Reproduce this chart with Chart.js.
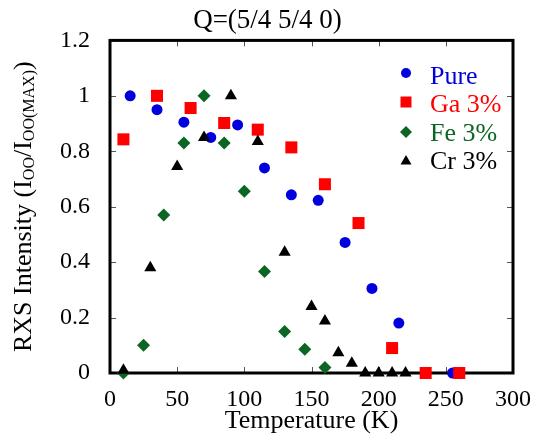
<!DOCTYPE html>
<html>
<head>
<meta charset="utf-8">
<script src="https://cdn.jsdelivr.net/npm/chart.js@4.4.1/dist/chart.umd.min.js"></script>
<style>
  html, body { margin: 0; padding: 0; background: #fff; }
</style>
</head>
<body>
<canvas id="chart" width="539" height="440"></canvas>
<script>
// temperatures (K) and normalised intensities
const pureT = [15, 35, 55, 75, 95, 115, 135, 155, 175, 195, 215, 255];
const pureI = [1.0, 0.95, 0.905, 0.85, 0.895, 0.74, 0.643, 0.623, 0.471, 0.305, 0.18, 0];
const gaT = [10, 35, 60, 85, 110, 135, 160, 185, 210, 235, 260];
const gaI = [0.843, 1.0, 0.956, 0.902, 0.878, 0.814, 0.681, 0.541, 0.09, 0, 0];
const feT = [10, 25, 40, 55, 70, 85, 100, 115, 130, 145, 160];
const feI = [0, 0.1, 0.57, 0.83, 1.0, 0.83, 0.656, 0.366, 0.15, 0.086, 0.02];
const crT = [10, 30, 50, 70, 90, 110, 130, 150, 160, 170, 180, 190, 200, 210, 220];
const crI = [0.01, 0.38, 0.745, 0.85, 1.0, 0.835, 0.436, 0.24, 0.188, 0.073, 0.035, 0, 0, 0, 0];

const seriesNames = ['Pure', 'Ga 3%', 'Fe 3%', 'Cr 3%'];
const xTicks = [0, 50, 100, 150, 200, 250, 300];
const yTicks = [0, 0.2, 0.4, 0.6, 0.8, 1, 1.2];

const colors = ['#0000dd', '#ff0000', '#0b6623', '#000000'];
const styles = ['circle', 'rect', 'rectRot', 'triangle'];
const radii = [5.5, 8.5, 6.5, 7];
const SERIF = '"Liberation Serif", "Times New Roman", serif';

const pts = (xs, ys) => xs.map((x, i) => ({ x: x, y: ys[i] }));
const seriesData = [pts(pureT, pureI), pts(gaT, gaI), pts(feT, feI), pts(crT, crI)];

// box round the plot + inward ticks on all four sides
const frame = {
  id: 'frame',
  beforeDatasetsDraw(chart) {
    const ctx = chart.ctx, a = chart.chartArea;
    const sx = chart.scales.x, sy = chart.scales.y;
    ctx.save();
    ctx.strokeStyle = '#555';
    ctx.lineWidth = 1;
    ctx.beginPath();
    xTicks.forEach(v => {
      const px = Math.round(sx.getPixelForValue(v)) + 0.5;
      ctx.moveTo(px, a.bottom); ctx.lineTo(px, a.bottom - 6);
      ctx.moveTo(px, a.top); ctx.lineTo(px, a.top + 6);
    });
    yTicks.forEach(v => {
      const py = Math.round(sy.getPixelForValue(v)) + 0.5;
      ctx.moveTo(a.left, py); ctx.lineTo(a.left + 6, py);
      ctx.moveTo(a.right, py); ctx.lineTo(a.right - 6, py);
    });
    ctx.stroke();
    ctx.strokeStyle = '#000';
    ctx.lineWidth = 3;
    ctx.strokeRect(a.left, a.top, a.right - a.left, a.bottom - a.top);
    ctx.restore();
  }
};

// y title with subscripts
const yTitle = {
  id: 'yTitle',
  afterDraw(chart) {
    const ctx = chart.ctx, a = chart.chartArea;
    const parts = [['RXS Intensity (I', 0], ['OO', 1], ['/I', 0], ['OO(MAX)', 1], [')', 0]];
    const big = '26px ' + SERIF, small = '16px ' + SERIF;
    ctx.save();
    let total = 0;
    parts.forEach(p => { ctx.font = p[1] ? small : big; total += ctx.measureText(p[0]).width; });
    ctx.translate(31, (a.top + a.bottom) / 2);
    ctx.rotate(-Math.PI / 2);
    ctx.fillStyle = '#000';
    ctx.textBaseline = 'alphabetic';
    let u = -total / 2;
    parts.forEach(p => {
      ctx.font = p[1] ? small : big;
      ctx.fillText(p[0], u, p[1] ? 3 : 0);
      u += ctx.measureText(p[0]).width;
    });
    ctx.restore();
  }
};

// legend inside the plot, top right
const legendBox = {
  id: 'legendBox',
  afterDraw(chart) {
    const ctx = chart.ctx;
    const mx = 406, tx = 430;
    const my = [73, 102, 132, 161];
    const ty = [77, 105, 134.5, 162.5];
    ctx.save();
    seriesNames.forEach((name, i) => {
      ctx.fillStyle = colors[i];
      ctx.beginPath();
      const y = my[i];
      if (i === 0) ctx.arc(mx, y, 5, 0, Math.PI * 2);
      else if (i === 1) ctx.rect(mx - 5.5, y - 5.5, 11, 11);
      else if (i === 2) { ctx.moveTo(mx, y - 6); ctx.lineTo(mx + 6, y); ctx.lineTo(mx, y + 6); ctx.lineTo(mx - 6, y); }
      else { ctx.moveTo(mx, y - 6); ctx.lineTo(mx + 5.5, y + 3.5); ctx.lineTo(mx - 5.5, y + 3.5); }
      ctx.closePath();
      ctx.fill();
      ctx.font = '26px ' + SERIF;
      ctx.textBaseline = 'middle';
      ctx.textAlign = 'left';
      ctx.fillText(name, tx, ty[i]);
    });
    ctx.restore();
  }
};

new Chart(document.getElementById('chart'), {
  type: 'scatter',
  data: {
    datasets: seriesNames.map((name, i) => ({
      label: name,
      data: seriesData[i],
      pointStyle: styles[i],
      pointRadius: radii[i],
      pointHoverRadius: radii[i],
      backgroundColor: colors[i],
      borderColor: colors[i],
      borderWidth: 0,
      clip: false,
      order: 4 - i
    }))
  },
  options: {
    responsive: false,
    animation: false,
    layout: { padding: { left: 22, right: 26, top: 0, bottom: 0 } },
    plugins: {
      legend: { display: false },
      tooltip: { enabled: false },
      title: {
        display: true,
        text: 'Q=(5/4 5/4 0)',
        color: '#000',
        font: { family: SERIF, size: 27, weight: 'normal' },
        padding: { top: 5, bottom: 3 }
      }
    },
    scales: {
      x: {
        type: 'linear',
        min: 0, max: 300,
        grid: { display: false },
        border: { display: false },
        ticks: { stepSize: 50, color: '#000', padding: 4, font: { family: SERIF, size: 24 } },
        title: {
          display: true,
          text: 'Temperature (K)',
          color: '#000',
          font: { family: SERIF, size: 26 },
          padding: { top: 0, bottom: 3 }
        },
        afterFit: (s) => { s.height = 67; }
      },
      y: {
        min: 0, max: 1.2,
        grid: { display: false },
        border: { display: false },
        ticks: {
          stepSize: 0.2, color: '#000', padding: 12,
          font: { family: SERIF, size: 24 },
          callback: (v) => String(+v.toFixed(1))
        },
        afterFit: (s) => { s.width = 88; }
      }
    }
  },
  plugins: [frame, yTitle, legendBox]
});
</script>
</body>
</html>
